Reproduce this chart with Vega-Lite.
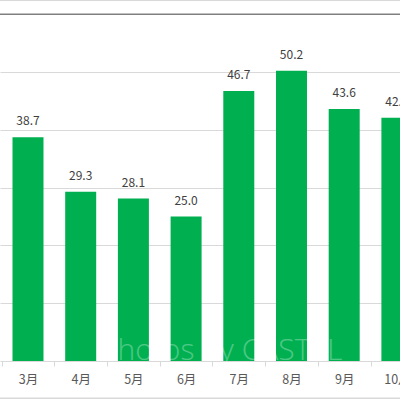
{
  "$schema": "https://vega.github.io/schema/vega-lite/v6.json",
  "width": 400,
  "height": 361,
  "autosize": {"type": "none"},
  "padding": {"left": 0, "top": 0, "right": 0, "bottom": 39},
  "background": "white",
  "config": {"view": {"stroke": null}},
  "data": {
    "values": [
      {"month": 3, "value": 38.7},
      {"month": 4, "value": 29.3},
      {"month": 5, "value": 28.1},
      {"month": 6, "value": 25.0},
      {"month": 7, "value": 46.7},
      {"month": 8, "value": 50.2},
      {"month": 9, "value": 43.6},
      {"month": 10, "value": 42.1}
    ]
  },
  "resolve": {"axis": {"x": "independent", "y": "independent"}},
  "layer": [
    {
      "mark": {"type": "bar", "color": "#00B050", "size": 31, "clip": true},
      "encoding": {
        "x": {
          "field": "month",
          "type": "quantitative",
          "scale": {"domain": [2.4687, 10.059], "nice": false, "zero": false, "padding": 0},
          "axis": {
            "orient": "bottom",
            "values": [2.5, 3.5, 4.5, 5.5, 6.5, 7.5, 8.5, 9.5, 10.5],
            "labelExpr": "(datum.value + 0.5) + '月'",
            "labelOffset": 26.35,
            "labelFlush": false,
            "labelOverlap": false,
            "labelBound": false,
            "tickSize": 5,
            "tickColor": "#d9d9d9",
            "domainColor": "#d9d9d9",
            "labelFont": "Noto Sans CJK JP",
            "labelFontSize": 12.5,
            "labelColor": "#595959",
            "labelPadding": 7,
            "title": null,
            "grid": false,
            "zindex": 1
          }
        },
        "y": {
          "field": "value",
          "type": "quantitative",
          "scale": {"domain": [0, 62.46], "nice": false, "zero": false, "padding": 0},
          "axis": {
            "orient": "left",
            "values": [10, 20, 30, 40, 50],
            "grid": true,
            "gridColor": "#d9d9d9",
            "labels": false,
            "ticks": false,
            "domain": false,
            "title": null
          }
        },
        "y2": {"datum": 0}
      }
    },
    {
      "mark": {"type": "text", "dy": -12, "baseline": "alphabetic", "fontSize": 12, "color": "#404040", "font": "Noto Sans CJK JP"},
      "encoding": {
        "x": {"field": "month", "type": "quantitative", "axis": null},
        "y": {"field": "value", "type": "quantitative", "axis": null},
        "text": {"field": "value", "type": "quantitative", "format": ".1f"}
      }
    },
    {
      "data": {"values": [{"line": "top"}]},
      "mark": {"type": "rule", "color": "#808080", "strokeWidth": 1.5},
      "encoding": {"y": {"datum": 60, "type": "quantitative", "axis": null}}
    },
    {
      "data": {"values": [{"line": "border"}]},
      "mark": {"type": "rule", "color": "#d9d9d9", "strokeWidth": 1.5},
      "encoding": {"y": {"datum": 62.4, "type": "quantitative", "axis": null}}
    },
    {
      "data": {"values": [{"line": "border"}]},
      "mark": {"type": "rule", "color": "#d9d9d9", "strokeWidth": 1.5},
      "encoding": {"y": {"datum": -6.45, "type": "quantitative", "axis": null}}
    },
    {
      "data": {"values": [{"label": "Photos by CASTEL"}]},
      "mark": {"type": "text", "align": "left", "baseline": "alphabetic", "fontSize": 30, "font": "Open Sans", "fontWeight": 300, "color": "white", "opacity": 0.3},
      "encoding": {
        "x": {"datum": 4.366, "type": "quantitative", "axis": null},
        "y": {"datum": 0.2, "type": "quantitative", "axis": null},
        "text": {"field": "label"}
      }
    }
  ]
}
